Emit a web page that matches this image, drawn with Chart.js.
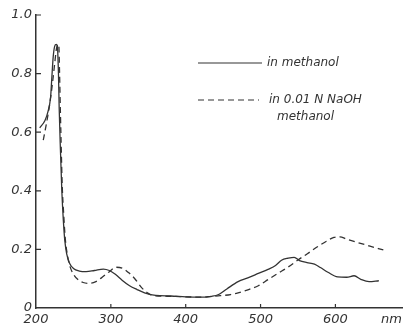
<!DOCTYPE html>
<html>
<head>
<meta charset="utf-8">
<script src="https://cdn.jsdelivr.net/npm/chart.js@4.4.0/dist/chart.umd.min.js"></script>
<style>
  body { margin: 0; background: #fff; }
  #box { width: 406px; height: 326px; }
</style>
</head>
<body>
<div id="box"><canvas id="spectrum" width="406" height="326"></canvas></div>
<script>
// wavelengths (nm) and absorbance
const methanolNm = [205, 212, 216, 219.5, 221, 223, 225, 227, 228.5, 230, 231, 232.5, 234.5, 236.5, 238.5, 241, 245, 250, 258, 267, 278, 290, 298, 306, 315, 325, 335, 345, 360, 380, 400, 420, 435, 444, 455, 470, 483, 497, 510, 520, 528, 537, 545, 552, 562, 572, 580, 590, 603, 615, 625, 634, 645, 658];
const methanolAbs = [0.615, 0.64, 0.67, 0.72, 0.78, 0.858, 0.894, 0.90, 0.895, 0.80, 0.68, 0.55, 0.40, 0.30, 0.23, 0.185, 0.152, 0.135, 0.126, 0.124, 0.128, 0.133, 0.128, 0.115, 0.095, 0.076, 0.063, 0.052, 0.043, 0.041, 0.038, 0.037, 0.04, 0.046, 0.065, 0.09, 0.103, 0.118, 0.132, 0.145, 0.163, 0.170, 0.173, 0.162, 0.155, 0.15, 0.138, 0.122, 0.106, 0.105, 0.11, 0.098, 0.09, 0.093];

const naohNm = [209.7, 214, 218.5, 222, 225, 227.4, 229.5, 230.5, 231.5, 232.5, 233.5, 235, 237, 239, 242, 245, 250, 256, 263, 271, 280, 287, 298, 307, 316, 324, 332, 342, 350, 358, 380, 400, 420, 435, 446, 460, 470, 483, 497, 510, 523, 537, 550, 563, 576, 588, 598, 606, 615, 629, 645, 664];
const naohAbs = [0.573, 0.63, 0.699, 0.767, 0.835, 0.886, 0.90, 0.895, 0.80, 0.68, 0.57, 0.42, 0.32, 0.24, 0.18, 0.145, 0.115, 0.097, 0.087, 0.084, 0.09, 0.102, 0.124, 0.139, 0.135, 0.12, 0.1, 0.067, 0.05, 0.042, 0.04, 0.038, 0.037, 0.04, 0.042, 0.046, 0.052, 0.062, 0.076, 0.097, 0.118, 0.14, 0.164, 0.186, 0.209, 0.228, 0.241, 0.243, 0.235, 0.224, 0.212, 0.198];

const xTicks = [200, 300, 400, 500, 600];
const yTicks = [0, 0.2, 0.4, 0.6, 0.8, 1.0];
const unitLabel = 'nm';
const unitPos = 675;

const ink = '#333';
const tickFont = { family: 'DejaVu Sans', size: 13, style: 'italic' };

function toPoints(xs, ys) {
    return xs.map((x, i) => ({ x: x, y: ys[i] }));
}

// small inward tick marks like the printed figure
const innerTicks = {
    id: 'innerTicks',
    afterDraw(chart) {
        const ctx = chart.ctx;
        const xs = chart.scales.x, ys = chart.scales.y;
        ctx.save();
        ctx.strokeStyle = ink;
        ctx.lineWidth = 1.2;
        ctx.beginPath();
        yTicks.forEach(v => {
            if (v === 0) return;
            const py = ys.getPixelForValue(v);
            ctx.moveTo(xs.left, py);
            ctx.lineTo(xs.left + 5, py);
        });
        xTicks.forEach(v => {
            if (v === 200) return;
            const px = xs.getPixelForValue(v);
            ctx.moveTo(px, ys.bottom);
            ctx.lineTo(px, ys.bottom - 4);
        });
        ctx.stroke();
        ctx.restore();
    }
};

// legend written inside the plot, as on the original
const inlineLegend = {
    id: 'inlineLegend',
    afterDraw(chart) {
        const ctx = chart.ctx;
        const rows = [
            { y: 63, x0: 198, x1: 262, tx: 267, ds: 0 },
            { y: 100, x0: 198, x1: 259, tx: 269, ds: 1 }
        ];
        ctx.save();
        ctx.font = 'italic 12px "DejaVu Sans"';
        ctx.fillStyle = ink;
        ctx.textBaseline = 'middle';
        rows.forEach(r => {
            const d = chart.data.datasets[r.ds];
            ctx.strokeStyle = ink;
            ctx.lineWidth = 1.2;
            ctx.setLineDash(d.borderDash || []);
            ctx.beginPath();
            ctx.moveTo(r.x0, r.y);
            ctx.lineTo(r.x1, r.y);
            ctx.stroke();
            const lines = Array.isArray(d.label) ? d.label : [d.label];
            ctx.fillText(lines[0], r.tx, r.y);
            if (lines[1]) ctx.fillText(lines[1], r.tx + 8, r.y + 17);
        });
        ctx.restore();
    }
};

new Chart(document.getElementById('spectrum'), {
    type: 'line',
    data: {
        datasets: [{
            label: 'in methanol',
            data: toPoints(methanolNm, methanolAbs),
            borderColor: ink,
            borderWidth: 1.3,
            pointRadius: 0,
            cubicInterpolationMode: 'monotone'
        }, {
            label: ['in 0.01 N NaOH', 'methanol'],
            data: toPoints(naohNm, naohAbs),
            borderColor: ink,
            borderWidth: 1.3,
            borderDash: [6, 4],
            pointRadius: 0,
            cubicInterpolationMode: 'monotone'
        }]
    },
    options: {
        responsive: false,
        animation: false,
        layout: { autoPadding: false, padding: { top: 15, right: 0, left: 0, bottom: 0 } },
        plugins: {
            legend: { display: false },
            tooltip: { enabled: false }
        },
        scales: {
            x: {
                type: 'linear',
                min: 200,
                max: 690,
                afterFit: s => { s.height = 18; },
                afterBuildTicks: s => { s.ticks = xTicks.concat([unitPos]).map(v => ({ value: v })); },
                grid: { display: true, drawOnChartArea: false, drawTicks: false },
                border: { display: true, color: ink, width: 1.5 },
                ticks: {
                    padding: 4,
                    color: ink,
                    font: tickFont,
                    maxRotation: 0,
                    autoSkip: false,
                    callback: v => v === unitPos ? unitLabel : String(v)
                }
            },
            y: {
                min: 0,
                max: 1.0,
                afterFit: s => { s.width = 36; },
                afterBuildTicks: s => { s.ticks = yTicks.map(v => ({ value: v })); },
                grid: { display: true, drawOnChartArea: false, drawTicks: false },
                border: { display: true, color: ink, width: 1.5 },
                ticks: {
                    padding: 4,
                    color: ink,
                    font: tickFont,
                    callback: v => v === 0 ? '0' : v.toFixed(1)
                }
            }
        }
    },
    plugins: [innerTicks, inlineLegend]
});
</script>
</body>
</html>
